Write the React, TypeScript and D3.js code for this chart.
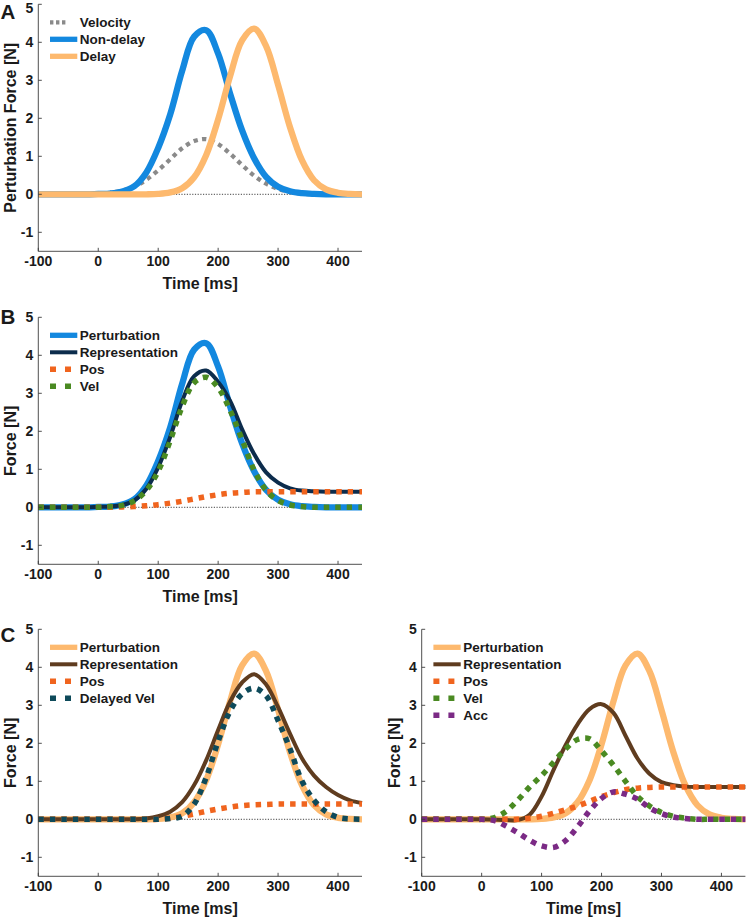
import React from 'react';
import * as d3 from 'd3';

// shared time base (ms)
const time = [-100, -80, -60, -40, -20, 0, 20, 40, 60, 80, 100, 120, 140, 160, 180, 200, 220, 240, 260, 280, 300, 320, 340, 360, 380, 400, 420, 440];

// A: perturbation profiles
const velocityA = [0, 0, 0, 0, 0, 0, 0.04, 0.1, 0.2, 0.38, 0.63, 0.92, 1.21, 1.4, 1.45, 1.32, 1.07, 0.77, 0.49, 0.28, 0.14, 0.06, 0.02, 0, 0, 0, 0, 0];
const nonDelay = [0, 0, 0, 0, 0, 0.01, 0.02, 0.07, 0.21, 0.57, 1.22, 2.1, 3.25, 4.15, 4.32, 3.7, 2.65, 1.68, 0.95, 0.46, 0.2, 0.08, 0.03, 0.01, 0, 0, 0, 0];
const delay = [0, 0, 0, 0, 0, 0, 0, 0, 0, 0, 0.01, 0.05, 0.16, 0.45, 1.03, 1.97, 3.11, 4.05, 4.36, 3.9, 2.88, 1.76, 0.89, 0.37, 0.13, 0.04, 0.01, 0];

// B: non-delay representation
const reprB = [0, 0, 0, 0, 0, 0.01, 0.02, 0.06, 0.18, 0.48, 1.05, 1.85, 2.8, 3.45, 3.6, 3.3, 2.8, 2.05, 1.4, 0.92, 0.65, 0.5, 0.44, 0.42, 0.41, 0.41, 0.41, 0.41];
const posB = [0, 0, 0, 0, 0, 0, 0, 0.01, 0.02, 0.04, 0.07, 0.11, 0.16, 0.22, 0.28, 0.33, 0.37, 0.39, 0.41, 0.41, 0.41, 0.41, 0.41, 0.41, 0.41, 0.41, 0.41, 0.41];
const velB = [0, 0, 0, 0, 0, 0, 0.02, 0.05, 0.17, 0.44, 0.95, 1.75, 2.65, 3.28, 3.42, 3.15, 2.55, 1.78, 0.98, 0.45, 0.18, 0.06, 0.02, 0, 0, 0, 0, 0];

// C left: delayed velocity model
const reprC = [0, 0, 0, 0, 0, 0, 0, 0, 0, 0.02, 0.08, 0.2, 0.45, 0.9, 1.55, 2.35, 3.1, 3.6, 3.82, 3.55, 2.95, 2.25, 1.6, 1.15, 0.85, 0.64, 0.5, 0.43];
const posC = [0, 0, 0, 0, 0, 0, 0, 0, 0, 0, 0, 0.03, 0.08, 0.14, 0.21, 0.27, 0.32, 0.36, 0.38, 0.39, 0.4, 0.4, 0.4, 0.4, 0.4, 0.4, 0.4, 0.4];
const delayedVelC = [0, 0, 0, 0, 0, 0, 0, 0, 0, 0, 0, 0.02, 0.08, 0.4, 1.1, 2.05, 2.85, 3.3, 3.45, 3.25, 2.6, 1.85, 1.0, 0.5, 0.2, 0.05, 0.01, 0];

// C right: pos/vel/acc model
const reprD = [0, 0, 0, 0, 0, 0, -0.01, -0.02, -0.02, 0.12, 0.6, 1.3, 1.95, 2.5, 2.9, 3.03, 2.8, 2.2, 1.6, 1.2, 0.98, 0.9, 0.86, 0.85, 0.85, 0.85, 0.85, 0.85];
const posD = [0, 0, 0, 0, 0, 0, 0, 0, 0, 0.03, 0.08, 0.16, 0.25, 0.35, 0.47, 0.6, 0.7, 0.78, 0.82, 0.84, 0.85, 0.85, 0.85, 0.85, 0.85, 0.85, 0.85, 0.85];
const velD = [0, 0, 0, 0, 0, 0, 0.04, 0.2, 0.5, 0.85, 1.15, 1.5, 1.85, 2.1, 2.12, 1.8, 1.42, 1.0, 0.6, 0.35, 0.18, 0.08, 0.03, 0, 0, 0, 0, 0];
const accD = [0, 0, 0, 0, 0, 0, -0.03, -0.17, -0.35, -0.55, -0.7, -0.74, -0.56, -0.2, 0.22, 0.55, 0.72, 0.66, 0.53, 0.3, 0.15, 0.06, 0.02, 0, 0, 0, 0, 0];

const xTicks = [-100, 0, 100, 200, 300, 400];
const yTicks = [-1, 0, 1, 2, 3, 4, 5];

const BLUE = '#1388df';
const LIGHT_ORANGE = '#fdb96e';
const GRAY = '#8a8a8a';
const NAVY = '#0c2c4c';
const POS = '#f0641e';
const GREEN = '#4a8a22';
const TEAL = '#0e4a5a';
const BROWN = '#5f3c1f';
const PURPLE = '#7b2a85';

const FONT = '"Liberation Sans", Arial, Helvetica, sans-serif';
const PLOT_W = 323.7;
const PLOT_H = 247;

type Series = {
  name: string;
  values: number[];
  color: string;
  width: number;
  dash?: string;
  legendDash?: string;
  legendLen?: number;
};

const thick = (name: string, values: number[], color: string): Series => ({ name, values, color, width: 6.3 });
const repr = (values: number[], color: string): Series => ({ name: 'Representation', values, color, width: 4 });
const dots = (name: string, values: number[], color: string): Series => ({
  name, values, color, width: 5.5, dash: '5.5,6', legendDash: '6,9', legendLen: 21,
});

const panels = [
  {
    label: 'A', labelY: 18.5, left: 38.3, top: 4.3, yTitle: 'Perturbation Force [N]',
    series: [
      { name: 'Velocity', values: velocityA, color: GRAY, width: 4.3, dash: '4.3,4.3', legendDash: '3.4,2.6', legendLen: 16 },
      thick('Non-delay', nonDelay, BLUE),
      thick('Delay', delay, LIGHT_ORANGE),
    ] as Series[],
  },
  {
    label: 'B', labelY: 323.5, left: 38.3, top: 317.3, yTitle: 'Force [N]',
    series: [thick('Perturbation', nonDelay, BLUE), repr(reprB, NAVY), dots('Pos', posB, POS), dots('Vel', velB, GREEN)],
  },
  {
    label: 'C', labelY: 641.5, left: 38.3, top: 629.3, yTitle: 'Force [N]',
    series: [thick('Perturbation', delay, LIGHT_ORANGE), repr(reprC, BROWN), dots('Pos', posC, POS), dots('Delayed Vel', delayedVelC, TEAL)],
  },
  {
    label: '', labelY: 0, left: 421.7, top: 629.3, yTitle: 'Force [N]',
    series: [thick('Perturbation', delay, LIGHT_ORANGE), repr(reprD, BROWN), dots('Pos', posD, POS), dots('Vel', velD, GREEN), dots('Acc', accD, PURPLE)],
  },
];

function Panel({ p }: { p: typeof panels[number] }) {
  const x = d3.scaleLinear().domain([-100, 440]).range([p.left, p.left + PLOT_W]);
  const y = d3.scaleLinear().domain([-1.5, 5]).range([p.top + PLOT_H, p.top]);
  const line = d3.line<number>()
    .x((_, i) => x(time[i]))
    .y(d => y(d))
    .curve(d3.curveCatmullRom.alpha(0.5));
  const bottom = p.top + PLOT_H;
  const axisColor = '#3c3c3c';

  return (
    <g fontFamily={FONT} fontWeight="bold" fill="#1a1a1a">
      <line x1={x(-100)} x2={x(440)} y1={y(0)} y2={y(0)} stroke="#444" strokeWidth={1} strokeDasharray="1.2,1.5" />
      {p.series.map(s => (
        <path key={s.name} d={line(s.values) || ''} fill="none" stroke={s.color}
          strokeWidth={s.width} strokeDasharray={s.dash} strokeLinejoin="round" />
      ))}

      {/* axes, box off, ticks inward */}
      <line x1={p.left} x2={p.left} y1={p.top} y2={bottom} stroke={axisColor} strokeWidth={0.9} />
      <line x1={p.left} x2={p.left + PLOT_W} y1={bottom} y2={bottom} stroke={axisColor} strokeWidth={0.9} />
      {xTicks.map(t => (
        <g key={'x' + t}>
          <line x1={x(t)} x2={x(t)} y1={bottom} y2={bottom - 3.5} stroke={axisColor} strokeWidth={0.9} />
          <text x={x(t)} y={bottom + 14.5} textAnchor="middle" fontSize={14}>{t}</text>
        </g>
      ))}
      {yTicks.map(v => (
        <g key={'y' + v}>
          <line x1={p.left} x2={p.left + 3.5} y1={y(v)} y2={y(v)} stroke={axisColor} strokeWidth={0.9} />
          <text x={p.left - 5} y={Math.max(y(v) + 5, 12.8)} textAnchor="end" fontSize={14}>{v}</text>
        </g>
      ))}
      <text x={p.left + PLOT_W / 2} y={bottom + 37.5} textAnchor="middle" fontSize={16}>Time [ms]</text>
      <text transform={`translate(${p.left - 22},${p.top + PLOT_H / 2}) rotate(-90)`} textAnchor="middle" fontSize={16}>
        {p.yTitle}
      </text>
      {p.label && <text x={0.5} y={p.labelY} fontSize={20.5}>{p.label}</text>}

      {/* legend */}
      {p.series.map((s, i) => {
        const ly = p.top + 18 + i * 17;
        const lx = p.left + 11.7;
        return (
          <g key={'lg' + s.name}>
            <line x1={lx} x2={lx + (s.legendLen ?? 27.3)} y1={ly} y2={ly} stroke={s.color}
              strokeWidth={s.legendDash ? Math.min(s.width, 5.5) : Math.min(s.width, 5.3)} strokeDasharray={s.legendDash} />
            <text x={p.left + 41.5} y={ly + 5} fontSize={13.5}>{s.name}</text>
          </g>
        );
      })}
    </g>
  );
}

export default function App() {
  return (
    <svg width={748} height={918} style={{ position: 'absolute', left: 0, top: 0, background: '#fff' }}>
      <rect width={748} height={918} fill="#fff" />
      {panels.map((p, i) => <Panel key={i} p={p} />)}
    </svg>
  );
}
